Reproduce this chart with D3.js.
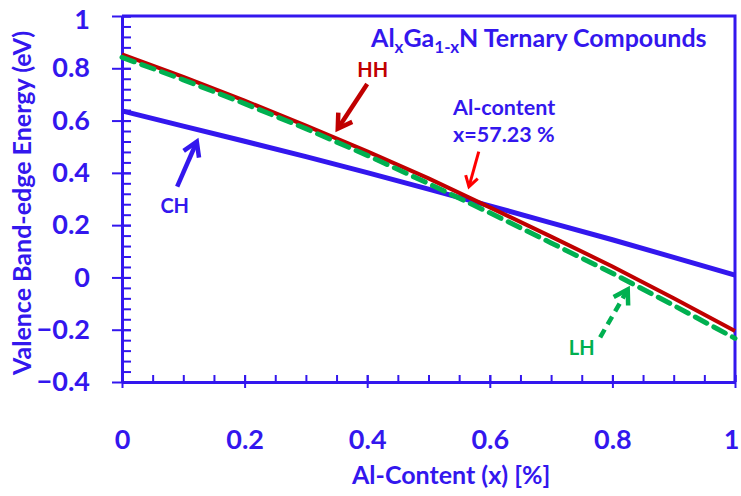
<!DOCTYPE html>
<html>
<head>
<meta charset="utf-8">
<script src="https://cdn.jsdelivr.net/npm/d3@7"></script>
<style>
  body { margin: 0; background: #fff; }
  text { font-family: Lato, "Open Sans", sans-serif; font-weight: bold; }
</style>
</head>
<body>
<svg id="chart" width="741" height="496"></svg>
<script>
// data (Al content x, valence band-edge energy in eV)
var alContent = [0, 0.1, 0.2, 0.3, 0.4, 0.5, 0.6, 0.7, 0.8, 0.9, 1];
var hhEnergy = [0.853, 0.767, 0.676, 0.581, 0.482, 0.379, 0.268, 0.156, 0.042, -0.080, -0.205];
var lhEnergy = [0.842, 0.756, 0.665, 0.569, 0.467, 0.359, 0.247, 0.132, 0.016, -0.107, -0.233];
var chEnergy = [0.637, 0.579, 0.521, 0.462, 0.401, 0.338, 0.274, 0.209, 0.144, 0.077, 0.009];

var xTicks = [0, 0.2, 0.4, 0.6, 0.8, 1];
var yTicks = [-0.4, -0.2, 0, 0.2, 0.4, 0.6, 0.8, 1];

var blue = "#3317EE";
var darkRed = "#C00000";
var green = "#00B050";

var svg = d3.select("#chart");
var x = d3.scaleLinear().domain([0, 1]).range([122, 735]);
var y = d3.scaleLinear().domain([-0.4, 1]).range([382, 16]);

// frame (top + right)
svg.append("path")
    .attr("d", "M" + x(0) + "," + y(1) + "H" + x(1) + "V" + y(-0.4))
    .attr("fill", "none").attr("stroke", blue).attr("stroke-width", 3);

// minor ticks pointing inside
var yMinor = d3.range(-0.4, 1.0001, 0.04);
var xMinor = d3.range(0, 1.0001, 0.05);
svg.append("g")
    .attr("transform", "translate(" + x(0) + ",0)")
    .call(d3.axisRight(y).tickValues(yMinor).tickSize(9).tickFormat(""))
    .call(g => g.select(".domain").remove())
    .call(g => g.selectAll("line").attr("stroke", blue).attr("stroke-width", 2));
svg.append("g")
    .attr("transform", "translate(0," + y(-0.4) + ")")
    .call(d3.axisTop(x).tickValues(xMinor).tickSize(7).tickFormat(""))
    .call(g => g.select(".domain").remove())
    .call(g => g.selectAll("line").attr("stroke", blue).attr("stroke-width", 2));

// major axes
var yAxis = svg.append("g")
    .attr("transform", "translate(" + x(0) + ",0)")
    .call(d3.axisLeft(y).tickValues(yTicks).tickSize(10).tickSizeOuter(0).tickPadding(22)
        .tickFormat(d => d3.format("~g")(d)));
var xAxis = svg.append("g")
    .attr("transform", "translate(0," + y(-0.4) + ")")
    .call(d3.axisBottom(x).tickValues(xTicks).tickSize(6).tickSizeOuter(0).tickPadding(42)
        .tickFormat(d => d3.format("~g")(d)));
[yAxis, xAxis].forEach(function(g) {
    g.select(".domain").attr("stroke", blue).attr("stroke-width", 3);
    g.selectAll(".tick line").attr("stroke", blue).attr("stroke-width", 2);
    g.selectAll(".tick text").attr("fill", blue).style("font-size", "27px").attr("font-family", null);
});
// keep the top "1" and the right "1" inside the picture
yAxis.selectAll(".tick text").filter(d => d === 1).attr("dy", "0.45em");
xAxis.selectAll(".tick text").filter(d => d === 1).attr("dx", "-4");

// major ticks also cross to the inside
svg.append("g")
    .attr("transform", "translate(" + x(0) + ",0)")
    .call(d3.axisRight(y).tickValues(yTicks).tickSize(9).tickFormat(""))
    .call(g => g.select(".domain").remove())
    .call(g => g.selectAll("line").attr("stroke", blue).attr("stroke-width", 2));
svg.append("g")
    .attr("transform", "translate(0," + y(-0.4) + ")")
    .call(d3.axisTop(x).tickValues(xTicks).tickSize(7).tickFormat(""))
    .call(g => g.select(".domain").remove())
    .call(g => g.selectAll("line").attr("stroke", blue).attr("stroke-width", 2));

// axis titles
svg.append("text")
    .attr("transform", "translate(31," + y(0.285) + ") rotate(-90)")
    .attr("text-anchor", "middle")
    .attr("fill", blue).style("font-size", "25px")
    .text("Valence Band-edge Energy (eV)");
svg.append("text")
    .attr("x", x(0.537)).attr("y", 484)
    .attr("text-anchor", "middle")
    .attr("fill", blue).style("font-size", "25px")
    .text("Al-Content (x) [%]");

// curves
var line = d3.line().x(d => x(d[0])).y(d => y(d[1]));
function series(vals) { return alContent.map((a, i) => [a, vals[i]]); }

svg.append("path").datum(series(chEnergy))
    .attr("d", line).attr("fill", "none").attr("stroke", blue).attr("stroke-width", 5);
svg.append("path").datum(series(hhEnergy))
    .attr("d", line).attr("fill", "none").attr("stroke", darkRed).attr("stroke-width", 4);
svg.append("path").datum(series(lhEnergy))
    .attr("d", line).attr("fill", "none").attr("stroke", green).attr("stroke-width", 5)
    .attr("stroke-dasharray", "13,8").attr("stroke-linecap", "round");

// annotations (in data units)
var labels = [
    { text: "HH", x: 0.409, y: 0.767, color: darkRed, anchor: "middle", size: 20 },
    { text: "CH", x: 0.086, y: 0.248, color: blue, anchor: "middle", size: 20 },
    { text: "LH", x: 0.750, y: -0.298, color: green, anchor: "middle", size: 20 },
    { text: "Al-content", x: 0.540, y: 0.622, color: blue, anchor: "start", size: 21.5 },
    { text: "x=57.23 %", x: 0.540, y: 0.519, color: blue, anchor: "start", size: 21.5 }
];
svg.selectAll("text.note").data(labels).join("text")
    .attr("class", "note")
    .attr("x", d => x(d.x)).attr("y", d => y(d.y))
    .attr("text-anchor", d => d.anchor)
    .attr("fill", d => d.color)
    .style("font-size", d => d.size + "px")
    .text(d => d.text);

var arrows = [
    { from: [0.400, 0.740], to: [0.352, 0.569], color: darkRed, width: 4.5, head: 16, dash: null },
    { from: [0.090, 0.347], to: [0.122, 0.519], color: blue, width: 4.5, head: 16, dash: null },
    { from: [0.582, 0.481], to: [0.566, 0.347], color: "#FF0000", width: 3, head: 12, dash: null },
    { from: [0.780, -0.229], to: [0.825, -0.046], color: green, width: 4.5, head: 16, dash: "9,6" }
];
arrows.forEach(function(a) {
    var x1 = x(a.from[0]), y1 = y(a.from[1]), x2 = x(a.to[0]), y2 = y(a.to[1]);
    var ang = Math.atan2(y2 - y1, x2 - x1);
    var g = svg.append("g").attr("stroke", a.color).attr("stroke-width", a.width).attr("fill", "none");
    g.append("line").attr("x1", x1).attr("y1", y1).attr("x2", x2).attr("y2", y2)
        .attr("stroke-dasharray", a.dash);
    var pts = [ang + Math.PI - 0.55, ang + Math.PI + 0.55].map(t => [x2 + a.head * Math.cos(t), y2 + a.head * Math.sin(t)]);
    g.append("path")
        .attr("d", "M" + pts[0] + "L" + x2 + "," + y2 + "L" + pts[1])
        .attr("stroke-linejoin", "miter");
});

// title with subscripts
var title = svg.append("text")
    .attr("x", x(0.68)).attr("y", y(0.882))
    .attr("text-anchor", "middle")
    .attr("fill", blue).style("font-size", "25px");
title.append("tspan").text("Al");
title.append("tspan").text("x").attr("dy", 6).style("font-size", "17px");
title.append("tspan").text("Ga").attr("dy", -6);
title.append("tspan").text("1-x").attr("dy", 6).style("font-size", "17px");
title.append("tspan").text("N Ternary Compounds").attr("dy", -6);
</script>
</body>
</html>
